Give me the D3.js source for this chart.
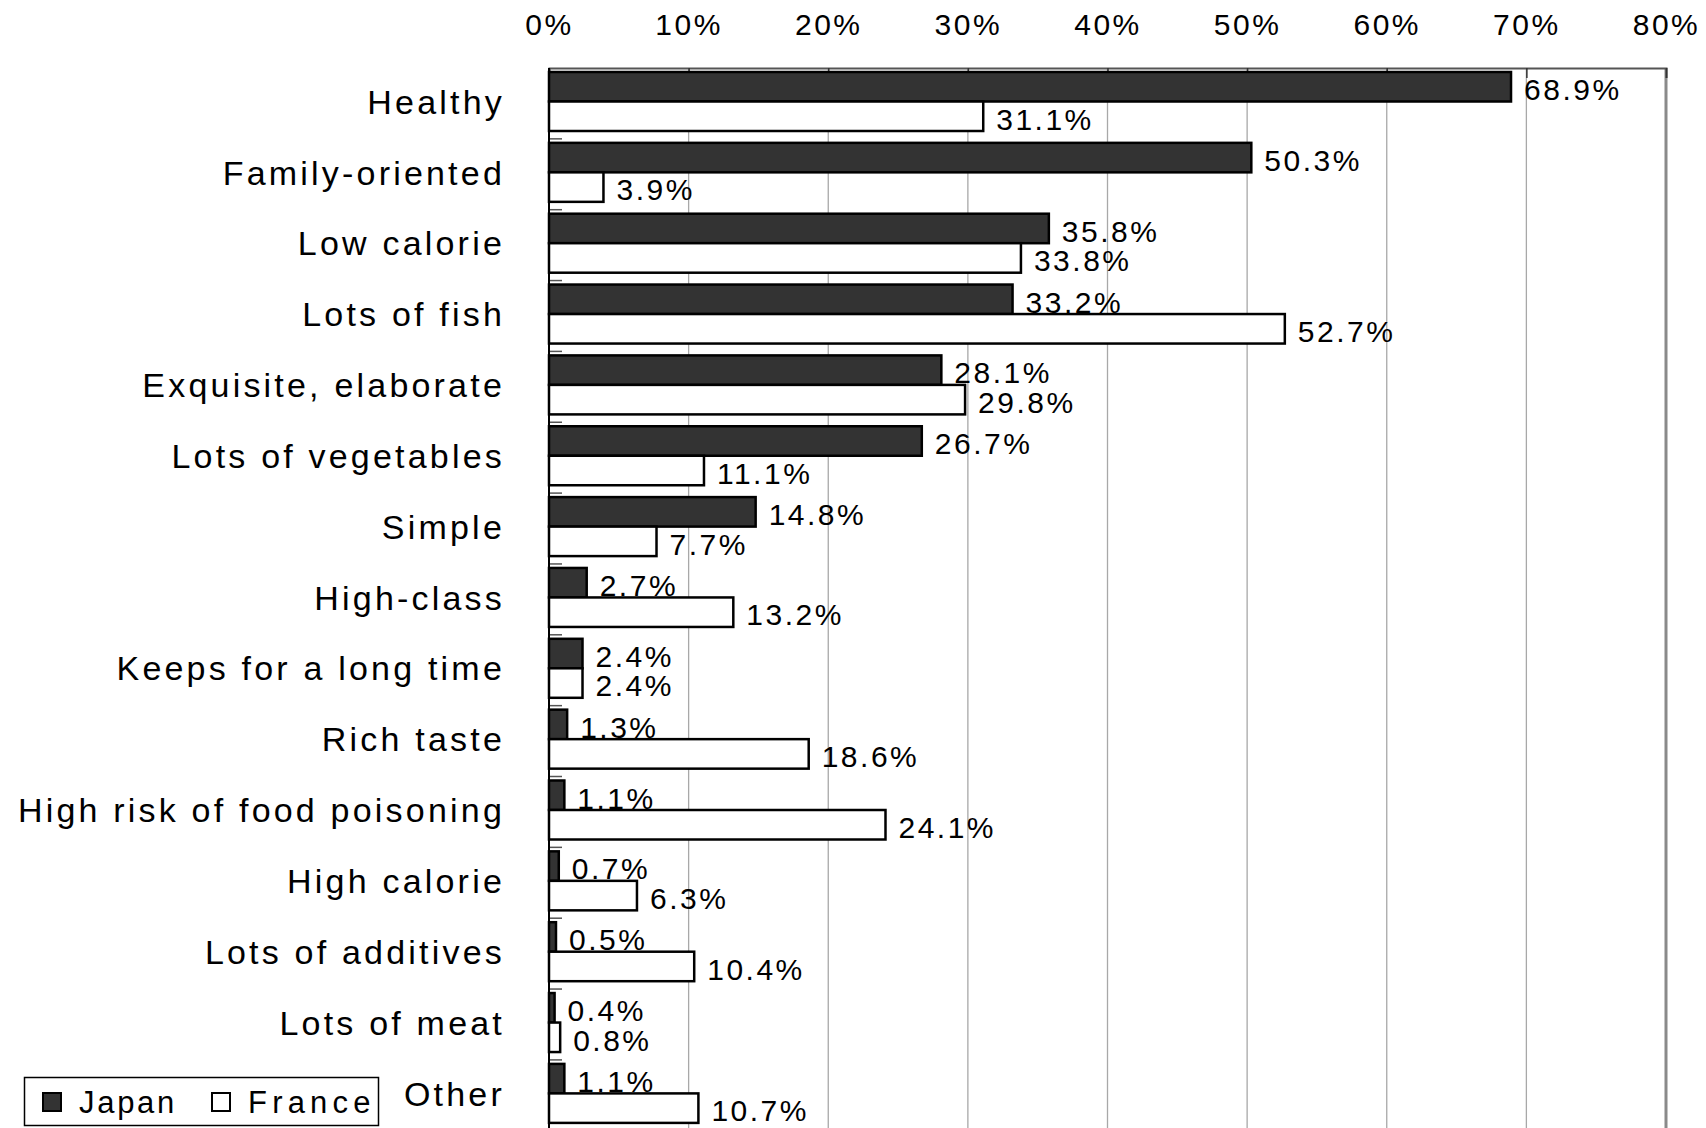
<!DOCTYPE html>
<html>
<head>
<meta charset="utf-8">
<script src="https://cdn.jsdelivr.net/npm/d3@7"></script>
<style>
  body { margin: 0; background: #fff; }
  svg text { font-family: 'Liberation Sans', Arial, sans-serif; fill: #000; }
</style>
</head>
<body>
<svg id="chart" width="1706" height="1128"></svg>
<script>
const categories = ['Healthy', 'Family-oriented', 'Low calorie', 'Lots of fish', 'Exquisite, elaborate',
  'Lots of vegetables', 'Simple', 'High-class', 'Keeps for a long time', 'Rich taste',
  'High risk of food poisoning', 'High calorie', 'Lots of additives', 'Lots of meat', 'Other'];
const series = ['Japan', 'France'];
const japan = [68.9, 50.3, 35.8, 33.2, 28.1, 26.7, 14.8, 2.7, 2.4, 1.3, 1.1, 0.7, 0.5, 0.4, 1.1];
const france = [31.1, 3.9, 33.8, 52.7, 29.8, 11.1, 7.7, 13.2, 2.4, 18.6, 24.1, 6.3, 10.4, 0.8, 10.7];
const xTicks = [0, 10, 20, 30, 40, 50, 60, 70, 80];

const fills = { Japan: '#333333', France: '#ffffff' };

const svg = d3.select('#chart');
const plotLeft = 549, plotRight = 1666, plotTop = 68, bandH = 70.85;

const x = d3.scaleLinear().domain([0, 80]).range([plotLeft, plotRight]);
const y = d3.scaleBand().domain(categories).range([plotTop, plotTop + bandH * categories.length]);
const ySub = d3.scaleBand().domain(series).range([4, 63]);

const rows = categories.map((c, i) => ({ cat: c, values: [
  { s: 'Japan', v: japan[i] }, { s: 'France', v: france[i] }] }));

// gridlines
svg.append('g').selectAll('line').data(xTicks.slice(1, -1)).join('line')
  .attr('x1', d => x(d)).attr('x2', d => x(d))
  .attr('y1', plotTop).attr('y2', 1128)
  .attr('stroke', '#a8a8a8').attr('stroke-width', 1.3);

// right border
svg.append('line').attr('x1', x(80)).attr('x2', x(80)).attr('y1', plotTop).attr('y2', 1128)
  .attr('stroke', '#8a8a8a').attr('stroke-width', 3);

// top axis
const xAxis = d3.axisTop(x).tickValues(xTicks).tickSize(-10).tickFormat(d => d + '%');
const ax = svg.append('g').attr('transform', `translate(0,${plotTop})`).call(xAxis);
ax.select('.domain').attr('stroke', '#555').attr('stroke-width', 2);
ax.selectAll('.tick line').attr('stroke', '#333').attr('stroke-width', 1.5);
ax.selectAll('.tick text').attr('y', -44).attr('dy', '0.35em')
  .attr('font-size', 30).attr('letter-spacing', 2.5)
  .style('font-family', "'Liberation Sans', Arial, sans-serif");

// left ticks at band boundaries
svg.append('g').selectAll('line').data(categories.slice(1)).join('line')
  .attr('x1', plotLeft).attr('x2', plotLeft + 13)
  .attr('y1', d => y(d)).attr('y2', d => y(d))
  .attr('stroke', '#555').attr('stroke-width', 1.5);

// bars
const g = svg.append('g').selectAll('g').data(rows).join('g')
  .attr('transform', d => `translate(0,${y(d.cat)})`);

g.selectAll('rect').data(d => d.values).join('rect')
  .attr('x', x(0))
  .attr('y', d => ySub(d.s))
  .attr('width', d => x(d.v) - x(0))
  .attr('height', ySub.bandwidth())
  .attr('fill', d => fills[d.s])
  .attr('stroke', '#000').attr('stroke-width', 2.5);

g.selectAll('text.val').data(d => d.values).join('text')
  .attr('class', 'val')
  .attr('x', d => x(d.v) + 13)
  .attr('y', d => ySub(d.s) + ySub.bandwidth() / 2 + 2.5)
  .attr('dy', '0.36em')
  .attr('font-size', 30).attr('letter-spacing', 2.5)
  .text(d => d.v.toFixed(1) + '%');

// left axis line
svg.append('line').attr('x1', plotLeft).attr('x2', plotLeft).attr('y1', plotTop).attr('y2', 1128)
  .attr('stroke', '#000').attr('stroke-width', 2);

// category labels
svg.append('g').selectAll('text').data(categories).join('text')
  .attr('x', 505)
  .attr('y', d => y(d) + bandH / 2 - 2)
  .attr('dy', '0.36em')
  .attr('text-anchor', 'end')
  .attr('font-size', 34).attr('letter-spacing', 3.2)
  .text(d => d);

// legend
const lg = svg.append('g');
lg.append('rect').attr('x', 24.5).attr('y', 1077.5).attr('width', 354).attr('height', 48)
  .attr('fill', '#fff').attr('stroke', '#000').attr('stroke-width', 1.5);
const legendX = { Japan: 43, France: 212 };
const legendSpacing = { Japan: 2.7, France: 5.2 };
series.forEach(s => {
  lg.append('rect').attr('x', legendX[s]).attr('y', 1093).attr('width', 18).attr('height', 18)
    .attr('fill', fills[s]).attr('stroke', '#000').attr('stroke-width', 2);
  lg.append('text').attr('x', legendX[s] + 36).attr('y', 1102).attr('dy', '0.36em')
    .attr('font-size', 31).attr('letter-spacing', legendSpacing[s])
    .text(s);
});
</script>
</body>
</html>
